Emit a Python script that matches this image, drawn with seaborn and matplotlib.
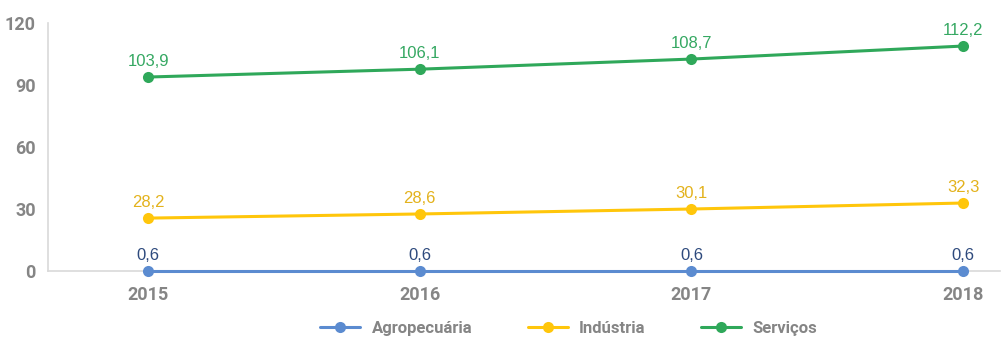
import matplotlib.pyplot as plt
import numpy as np
import pandas as pd
import seaborn as sns

years = [2015, 2016, 2017, 2018]
sectors = ["Agropecuária", "Indústria", "Serviços"]

# printed labels
agro_labels = [0.6, 0.6, 0.6, 0.6]
industria_labels = [28.2, 28.6, 30.1, 32.3]
servicos_labels = [103.9, 106.1, 108.7, 112.2]

# point heights as drawn in the picture
agro_pos = [0.0, 0.0, 0.0, 0.0]
industria_pos = [25.6, 27.6, 30.0, 32.9]
servicos_pos = [93.9, 97.7, 102.6, 108.9]

colors = ["#5B8BD0", "#FFC60B", "#2FA85A"]
label_colors = ["#2E4A7D", "#E3B21C", "#35A862"]

df = pd.DataFrame({
    "ano": years * 3,
    "valor": agro_pos + industria_pos + servicos_pos,
    "setor": [s for s in sectors for _ in years],
})
labels = [agro_labels, industria_labels, servicos_labels]
positions = [agro_pos, industria_pos, servicos_pos]

sns.set_style("white")
plt.rcParams["font.family"] = ["Roboto", "DejaVu Sans"]

fig = plt.figure(figsize=(10.03, 3.40), dpi=100)
ax = fig.add_axes([0.048, 0.203, 0.949, 0.729])

sns.lineplot(
    data=df, x="ano", y="valor", hue="setor", hue_order=sectors,
    palette=colors, marker="o", markersize=8, markeredgewidth=0,
    linewidth=2.2, ax=ax, legend=False,
)
for line in ax.lines:
    line.set_clip_on(False)
    line.set_zorder(5)

for vals, pos, c in zip(labels, positions, label_colors):
    for x, v, p in zip(years, vals, pos):
        ax.annotate(
            f"{v:.1f}".replace(".", ","), (x, p), xytext=(0, 6),
            textcoords="offset points", ha="center", va="bottom",
            fontsize=12, color=c, family=["Liberation Sans", "DejaVu Sans"],
        )

ax.set_xlim(2015 - 0.368, 2018 + 0.136)
ax.set_ylim(0, 120)
ax.set_yticks([0, 30, 60, 90, 120])
ax.set_xticks(years)
ax.set_xticklabels([str(y) for y in years])
ax.set_xlabel("")
ax.set_ylabel("")
ax.tick_params(length=0, labelsize=13, colors="#858585")
ax.tick_params(axis="x", pad=11)
ax.tick_params(axis="y", pad=9)
for t in ax.get_xticklabels() + ax.get_yticklabels():
    t.set_fontweight("bold")

sns.despine(ax=ax, top=True, right=True)
for side in ["left", "bottom"]:
    ax.spines[side].set_color("#D9D9D9")
    ax.spines[side].set_linewidth(1.2)
ax.grid(False)

handles = [
    plt.Line2D([], [], color=c, marker="o", markersize=8, linewidth=2.2, markeredgewidth=0)
    for c in colors
]
leg = fig.legend(
    handles, sectors, loc="center", bbox_to_anchor=(0.567, 0.035), ncol=3,
    frameon=False, handlelength=2.4, columnspacing=3.3, handletextpad=0.7,
    prop={"size": 12, "weight": "bold", "family": ["Roboto", "DejaVu Sans"]},
)
for t in leg.get_texts():
    t.set_color("#858585")

fig.savefig("out.png", dpi=100)
